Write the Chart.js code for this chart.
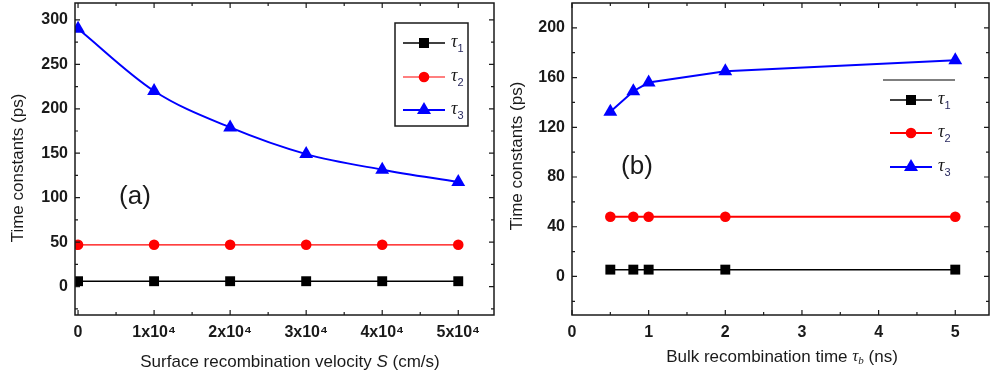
<!DOCTYPE html>
<html>
<head>
<meta charset="utf-8">
<script src="https://cdn.jsdelivr.net/npm/chart.js@4.4.0/dist/chart.umd.min.js"></script>
<style>
  html, body { margin: 0; padding: 0; background: #fff; }
  #wrap { position: relative; width: 990px; height: 377px; overflow: hidden; }
  .panel { position: absolute; top: 0; width: 495px; height: 377px; }
</style>
</head>
<body>
<div id="wrap">
  <div class="panel" style="left:0"><canvas id="chartA" width="495" height="377"></canvas></div>
  <div class="panel" style="left:495px"><canvas id="chartB" width="495" height="377"></canvas></div>
</div>
<script>
// Panel (a): time constants vs surface recombination velocity
const velocityS = [0, 10000, 20000, 30000, 40000, 50000];
const tau1A = [6, 6, 6, 6, 6, 6];
const tau2A = [47, 47, 47, 47, 47, 47];
const tau3A = [290, 220, 179, 149, 131.5, 117.5];
const xTicksA = [0, 10000, 20000, 30000, 40000, 50000];
const xTickLabelsA = ['0', '1x10\u2074', '2x10\u2074', '3x10\u2074', '4x10\u2074', '5x10\u2074'];
const xMinorA = [5000, 15000, 25000, 35000, 45000];
const yTicksA = [0, 50, 100, 150, 200, 250, 300];
const yMinorA = [-25, 25, 75, 125, 175, 225, 275];

// Panel (b): time constants vs bulk recombination time
const bulkTime = [0.5, 0.8, 1, 2, 5];
const tau1B = [5.5, 5.5, 5.5, 5.5, 5.5];
const tau2B = [48, 48, 48, 48, 48];
const tau3B = [132.5, 149, 156, 165, 174];
const xTicksB = [0, 1, 2, 3, 4, 5];
const xTickLabelsB = ['0', '1', '2', '3', '4', '5'];
const xMinorB = [0.5, 1.5, 2.5, 3.5, 4.5];
const yTicksB = [0, 40, 80, 120, 160, 200];
const yMinorB = [-20, 20, 60, 100, 140, 180];

const INK = '#1a1a1a';
const SANS = '"Liberation Sans", Arial, sans-serif';
const SERIF = '"Liberation Serif", "Times New Roman", serif';

function points(xs, ys) {
    return xs.map((x, i) => ({ x: x, y: ys[i] }));
}

// draw a row of text pieces (different fonts / baseline shifts) centred at cx
function drawRuns(ctx, runs, cx, y) {
    let total = 0;
    runs.forEach(r => { ctx.font = r.font; total += ctx.measureText(r.text).width; });
    let x = cx - total / 2;
    ctx.textAlign = 'left';
    ctx.textBaseline = 'middle';
    runs.forEach(r => {
        ctx.font = r.font;
        ctx.fillText(r.text, x, y + (r.dy || 0));
        x += ctx.measureText(r.text).width;
    });
}

function drawMarker(ctx, style, x, y, color) {
    ctx.fillStyle = color;
    ctx.beginPath();
    if (style === 'rect') {
        ctx.rect(x - 5, y - 5, 10, 10);
    } else if (style === 'circle') {
        ctx.arc(x, y, 5.3, 0, Math.PI * 2);
    } else {
        ctx.moveTo(x, y - 8);
        ctx.lineTo(x + 7, y + 4);
        ctx.lineTo(x - 7, y + 4);
        ctx.closePath();
    }
    ctx.fill();
}

function makeFramePlugin(cfg) {
    return {
        id: 'frame',
        afterDraw(chart) {
            const ctx = chart.ctx;
            const a = chart.chartArea;
            const xs = chart.scales.x;
            const ys = chart.scales.y;
            ctx.save();

            // axis box
            ctx.strokeStyle = INK;
            ctx.lineWidth = 1.5;
            ctx.strokeRect(a.left, a.top, a.right - a.left, a.bottom - a.top);

            // inward ticks on all four sides
            ctx.lineWidth = 1.2;
            ctx.beginPath();
            const xt = (vals, len) => vals.forEach(v => {
                const p = xs.getPixelForValue(v);
                ctx.moveTo(p, a.bottom); ctx.lineTo(p, a.bottom - len);
                ctx.moveTo(p, a.top); ctx.lineTo(p, a.top + len);
            });
            const yt = (vals, len) => vals.forEach(v => {
                const p = ys.getPixelForValue(v);
                ctx.moveTo(a.left, p); ctx.lineTo(a.left + len, p);
                ctx.moveTo(a.right, p); ctx.lineTo(a.right - len, p);
            });
            xt(cfg.xTicks, 5); xt(cfg.xMinor, 3);
            yt(cfg.yTicks, 5); yt(cfg.yMinor, 3);
            ctx.stroke();

            ctx.fillStyle = INK;
            // y axis title
            ctx.save();
            ctx.translate(cfg.yTitlePos[0], cfg.yTitlePos[1]);
            ctx.rotate(-Math.PI / 2);
            ctx.font = '17px ' + SANS;
            ctx.textAlign = 'center';
            ctx.textBaseline = 'middle';
            ctx.fillText('Time constants (ps)', 0, 0);
            ctx.restore();

            // x axis title
            drawRuns(ctx, cfg.xTitle, cfg.xTitlePos[0], cfg.xTitlePos[1]);

            // panel label
            ctx.font = '26px ' + SANS;
            ctx.textAlign = 'center';
            ctx.textBaseline = 'middle';
            ctx.fillText(cfg.panelLabel, cfg.panelPos[0], cfg.panelPos[1]);

            // legend
            const lg = cfg.legend;
            ctx.lineWidth = 1.5;
            if (lg.box) {
                ctx.strokeStyle = INK;
                ctx.strokeRect(lg.box[0], lg.box[1], lg.box[2], lg.box[3]);
            }
            if (lg.topRule) {
                ctx.strokeStyle = '#555';
                ctx.beginPath();
                ctx.moveTo(lg.topRule[0], lg.topRule[2]);
                ctx.lineTo(lg.topRule[1], lg.topRule[2]);
                ctx.stroke();
            }
            chart.data.datasets.forEach((ds, i) => {
                const y = lg.rows[i];
                ctx.strokeStyle = ds.borderColor;
                ctx.lineWidth = ds.borderWidth;
                ctx.beginPath();
                ctx.moveTo(lg.lineX[0], y);
                ctx.lineTo(lg.lineX[1], y);
                ctx.stroke();
                drawMarker(ctx, ds.pointStyle, (lg.lineX[0] + lg.lineX[1]) / 2, y, ds.backgroundColor);
                ctx.fillStyle = INK;
                ctx.textAlign = 'left';
                ctx.textBaseline = 'middle';
                ctx.font = 'italic 18px ' + SERIF;
                ctx.fillText('\u03c4', lg.textX, y - 1);
                const w = ctx.measureText('\u03c4').width;
                ctx.font = '11px ' + SANS;
                ctx.fillStyle = '#2a2a60';
                ctx.fillText(String(i + 1), lg.textX + w, y + 6);
            });

            ctx.restore();
        }
    };
}

function buildChart(id, cfg) {
    const tickFont = { family: SANS, size: 16, weight: 'bold' };
    return new Chart(document.getElementById(id), {
        type: 'line',
        data: {
            datasets: [
                {
                    label: '\u03c41',
                    data: points(cfg.x, cfg.t1),
                    borderColor: '#000000',
                    backgroundColor: '#000000',
                    borderWidth: 1.5,
                    pointStyle: 'rect',
                    pointRadius: 7,
                    pointBorderWidth: 0
                },
                {
                    label: '\u03c42',
                    data: points(cfg.x, cfg.t2),
                    borderColor: '#ff0000',
                    backgroundColor: '#ff0000',
                    borderWidth: cfg.redWidth,
                    pointStyle: 'circle',
                    pointRadius: 5.3,
                    pointBorderWidth: 0
                },
                {
                    label: '\u03c43',
                    data: points(cfg.x, cfg.t3),
                    borderColor: '#0000ff',
                    backgroundColor: '#0000ff',
                    borderWidth: 2,
                    pointStyle: 'triangle',
                    pointRadius: 8,
                    pointBorderWidth: 0,
                    cubicInterpolationMode: cfg.smooth ? 'monotone' : 'default'
                }
            ]
        },
        options: {
            responsive: false,
            animation: false,
            layout: { autoPadding: false, padding: { top: 3, right: 1, left: 0, bottom: 0 } },
            plugins: { legend: { display: false }, tooltip: { enabled: false } },
            scales: {
                x: {
                    type: 'linear',
                    min: cfg.xRange[0],
                    max: cfg.xRange[1],
                    afterBuildTicks: s => { s.ticks = cfg.xTicks.map(v => ({ value: v })); },
                    afterFit: s => {
                        s.height = 62;
                        s.paddingLeft = 0;
                        s.paddingRight = 0;
                    },
                    grid: { display: false, drawTicks: false },
                    border: { display: false },
                    ticks: {
                        padding: 8,
                        font: tickFont,
                        color: INK,
                        autoSkip: false,
                        maxRotation: 0,
                        callback: (v, i) => cfg.xLabels[i]
                    }
                },
                y: {
                    type: 'linear',
                    min: cfg.yRange[0],
                    max: cfg.yRange[1],
                    afterBuildTicks: s => { s.ticks = cfg.yTicks.map(v => ({ value: v })); },
                    afterFit: s => {
                        s.width = cfg.yAxisWidth;
                        s.paddingTop = 0;
                        s.paddingBottom = 0;
                    },
                    grid: { display: false, drawTicks: false },
                    border: { display: false },
                    ticks: { padding: 7, font: tickFont, color: INK, autoSkip: false }
                }
            }
        },
        plugins: [makeFramePlugin(cfg)]
    });
}

buildChart('chartA', {
    x: velocityS, t1: tau1A, t2: tau2A, t3: tau3A,
    xTicks: xTicksA, xLabels: xTickLabelsA, xMinor: xMinorA,
    yTicks: yTicksA, yMinor: yMinorA,
    xRange: [-400, 54700], yRange: [-32, 319],
    yAxisWidth: 75, redWidth: 1.2, smooth: true,
    yTitlePos: [18, 168],
    xTitle: [
        { text: 'Surface recombination velocity ', font: '17px ' + SANS },
        { text: 'S', font: 'italic 17px ' + SANS },
        { text: ' (cm/s)', font: '17px ' + SANS }
    ],
    xTitlePos: [290, 362],
    panelLabel: '(a)', panelPos: [135, 197],
    legend: { box: [395, 23, 73, 103], rows: [43, 77, 110], lineX: [403, 445], textX: 451 }
});

buildChart('chartB', {
    x: bulkTime, t1: tau1B, t2: tau2B, t3: tau3B,
    xTicks: xTicksB, xLabels: xTickLabelsB, xMinor: xMinorB,
    yTicks: yTicksB, yMinor: yMinorB,
    xRange: [0, 5.44], yRange: [-31, 220],
    yAxisWidth: 77, redWidth: 2, smooth: false,
    yTitlePos: [22, 156],
    xTitle: [
        { text: 'Bulk recombination time ', font: '17px ' + SANS },
        { text: '\u03c4', font: 'italic 17px ' + SERIF },
        { text: 'b', font: 'italic 11px ' + SERIF, dy: 4 },
        { text: ' (ns)', font: '17px ' + SANS }
    ],
    xTitlePos: [287, 357],
    panelLabel: '(b)', panelPos: [142, 167],
    legend: { topRule: [388, 460, 80], rows: [100, 133, 167], lineX: [395, 437], textX: 443 }
});
</script>
</body>
</html>
